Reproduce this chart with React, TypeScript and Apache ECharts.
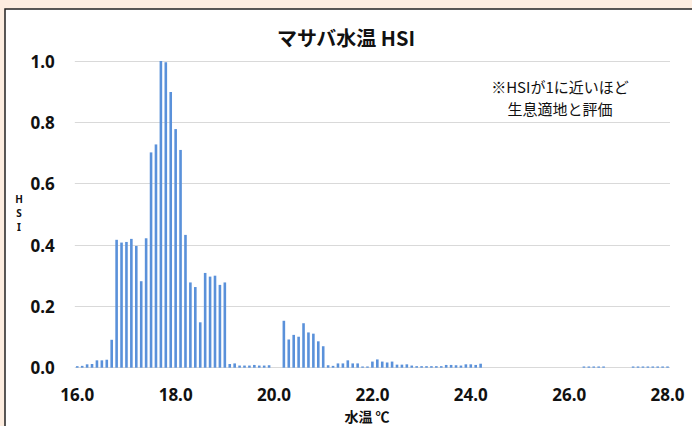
import React, { useEffect, useRef } from "react";
import * as echarts from "echarts";

// Water temperature (°C) of each bar
const temps: number[] = [
  16.0, 16.1, 16.2, 16.3, 16.4, 16.5, 16.6, 16.7, 16.8, 16.9,
  17.0, 17.1, 17.2, 17.3, 17.4, 17.5, 17.6, 17.7, 17.8, 17.9,
  18.0, 18.1, 18.2, 18.3, 18.4, 18.5, 18.6, 18.7, 18.8, 18.9,
  19.0, 19.1, 19.2, 19.3, 19.4, 19.5, 19.6, 19.7, 19.8, 19.9,
  20.2, 20.3, 20.4, 20.5, 20.6, 20.7, 20.8, 20.9,
  21.0, 21.1, 21.2, 21.3, 21.4, 21.5, 21.6, 21.7, 21.8, 21.9,
  22.0, 22.1, 22.2, 22.3, 22.4, 22.5, 22.6, 22.7, 22.8, 22.9,
  23.0, 23.1, 23.2, 23.3, 23.4, 23.5, 23.6, 23.7, 23.8, 23.9,
  24.0, 24.1, 24.2,
  26.3, 26.4, 26.5, 26.6, 26.7,
  27.3, 27.4, 27.5, 27.6, 27.7, 27.8, 27.9, 28.0,
];

// HSI value of each bar
const hsi: number[] = [
  0.005, 0.006, 0.011, 0.012, 0.024, 0.024, 0.026, 0.091, 0.417, 0.408,
  0.410, 0.420, 0.397, 0.282, 0.422, 0.702, 0.728, 1.000, 0.996, 0.899,
  0.778, 0.710, 0.433, 0.278, 0.263, 0.148, 0.309, 0.297, 0.300, 0.270,
  0.278, 0.012, 0.014, 0.007, 0.007, 0.007, 0.009, 0.007, 0.007, 0.008,
  0.153, 0.092, 0.107, 0.101, 0.145, 0.115, 0.111, 0.086,
  0.070, 0.008, 0.006, 0.014, 0.014, 0.024, 0.014, 0.014, 0.004, 0.004,
  0.020, 0.027, 0.020, 0.017, 0.020, 0.010, 0.010, 0.011, 0.007, 0.005,
  0.005, 0.005, 0.005, 0.005, 0.005, 0.009, 0.009, 0.008, 0.007, 0.011,
  0.011, 0.009, 0.013,
  0.004, 0.004, 0.004, 0.004, 0.004,
  0.004, 0.004, 0.004, 0.004, 0.004, 0.004, 0.004, 0.004,
];

const xTicks: number[] = [16, 18, 20, 22, 24, 26, 28];

const titleText = "マサバ水温 HSI";
const noteLines: string[] = ["※HSIが1に近いほど", "生息適地と評価"];
const xName = "水温 ℃";
const yNameLetters: string[] = ["H", "S", "I"];

const JP = "'Noto Sans CJK JP', 'Noto Sans', sans-serif";
const NUM = "'Noto Sans', 'Liberation Sans', sans-serif";

export default function App() {
  const ref = useRef<HTMLDivElement>(null);

  useEffect(() => {
    if (!ref.current) return;
    const chart = echarts.init(ref.current, undefined, { renderer: "svg" });
    const data = temps.map((t, i) => [t, hsi[i]]);
    const yNameTexts = yNameLetters.map((ch, i) => ({
      type: "text",
      x: 19,
      y: 199 + i * 14,
      style: {
        text: ch,
        font: `bold 10px ${NUM}`,
        fill: "#111111",
        align: "center",
        verticalAlign: "middle",
      },
    }));
    const noteTexts = noteLines.map((line, i) => ({
      type: "text",
      x: 560,
      y: 86 + i * 22,
      style: {
        text: line,
        font: `15px ${JP}`,
        fill: "#111111",
        align: "center",
        verticalAlign: "middle",
      },
    }));
    chart.setOption({
      animation: false,
      backgroundColor: "#FDEDE0",
      graphic: [
        {
          type: "rect",
          z: -10,
          shape: { x: 5, y: 9, width: 700, height: 430 },
          style: { fill: "#ffffff", stroke: "#222222", lineWidth: 1.5 },
        },
        {
          type: "text",
          x: 346,
          y: 37,
          style: {
            text: titleText,
            font: `bold 20px ${JP}`,
            fill: "#111111",
            align: "center",
            verticalAlign: "middle",
          },
        },
        ...noteTexts,
        {
          type: "text",
          x: 367,
          y: 416,
          style: {
            text: xName,
            font: `bold 14px ${JP}`,
            fill: "#111111",
            align: "center",
            verticalAlign: "middle",
          },
        },
        ...yNameTexts,
      ],
      grid: {
        left: 74.8,
        right: 22,
        top: 61,
        bottom: 58.3,
        containLabel: false,
        outerBoundsMode: "none",
      },
      xAxis: {
        type: "value",
        min: 15.95,
        max: 28.05,
        axisLine: { show: false },
        axisTick: { show: false },
        splitLine: { show: false },
        axisLabel: {
          customValues: xTicks,
          formatter: (v: number) => v.toFixed(1),
          margin: 18,
          fontFamily: NUM,
          fontWeight: "bold",
          fontSize: 17,
          color: "#111111",
        },
      },
      yAxis: {
        type: "value",
        min: 0,
        max: 1,
        interval: 0.2,
        axisLine: { show: false },
        axisTick: { show: false },
        splitLine: { lineStyle: { color: "#D9D9D9", width: 1 } },
        axisLabel: {
          formatter: (v: number) => v.toFixed(1),
          margin: 20,
          fontFamily: NUM,
          fontWeight: "bold",
          fontSize: 17,
          color: "#111111",
        },
      },
      series: [
        {
          type: "bar",
          data,
          barWidth: 2.6,
          itemStyle: { color: "#5A91DA" },
        },
      ],
    });
    return () => chart.dispose();
  }, []);

  return (
    <div
      ref={ref}
      style={{ position: "fixed", left: 0, top: 0, width: 692, height: 426 }}
    />
  );
}
